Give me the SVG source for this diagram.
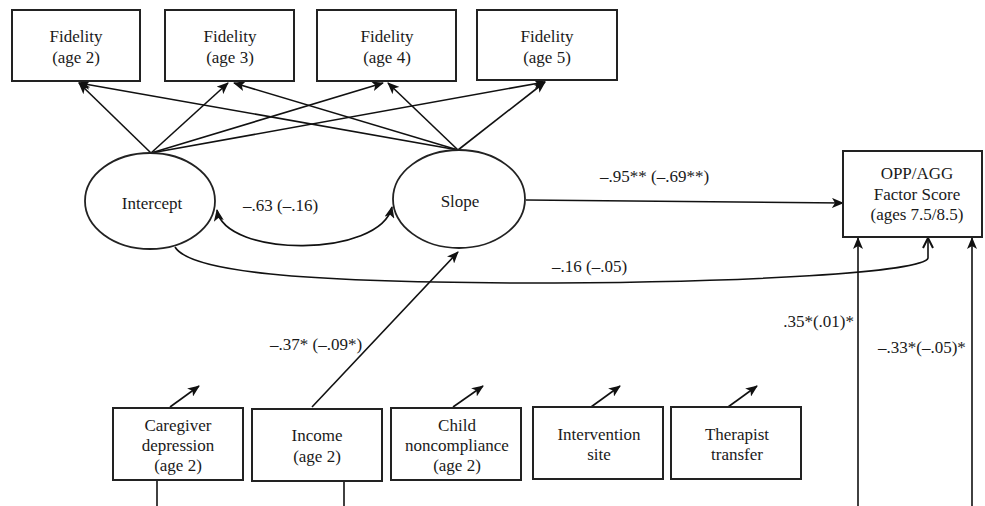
<svg xmlns="http://www.w3.org/2000/svg" width="985" height="506" viewBox="0 0 985 506">
<style>
text{font-family:"Liberation Serif","Times New Roman",serif;font-size:17px;fill:#1a1a1a}
.c{text-anchor:middle}
.box{fill:#fff;stroke:#222;stroke-width:2}
.ell{fill:#fff;stroke:#222;stroke-width:1.8}
.ln{fill:none;stroke:#111;stroke-width:1.6}
</style>
<defs>
<marker id="ah" viewBox="0 0 12 10" refX="11" refY="5" markerWidth="12" markerHeight="10" markerUnits="userSpaceOnUse" orient="auto-start-reverse">
<path d="M0,0 L12,5 L0,10 L3,5 z" fill="#111"/>
</marker>
<marker id="ov" viewBox="0 0 12 12" refX="11" refY="6" markerWidth="12" markerHeight="12" markerUnits="userSpaceOnUse" orient="auto">
<path d="M1,1 L11,6 L1,11" fill="none" stroke="#111" stroke-width="2"/>
</marker>
</defs>
<rect width="985" height="506" fill="#fff"/>

<g id="connectors">
<path class="ln" d="M151,153 L79,83" marker-end="url(#ah)"/>
<path class="ln" d="M151,153 L228,83" marker-end="url(#ah)"/>
<path class="ln" d="M151,153 L383,83" marker-end="url(#ah)"/>
<path class="ln" d="M151,153 L545,82" marker-end="url(#ah)"/>
<path class="ln" d="M458,150 L79,83" marker-end="url(#ah)"/>
<path class="ln" d="M458,150 L234,83" marker-end="url(#ah)"/>
<path class="ln" d="M458,150 L388,83" marker-end="url(#ah)"/>
<path class="ln" d="M458,150 L545,82" marker-end="url(#ah)"/>
<path class="ln" d="M392,207 C380,258 225,258 217,210" marker-start="url(#ah)" marker-end="url(#ah)"/>
<path class="ln" d="M526,200 L843,203" marker-end="url(#ah)"/>
<path class="ln" d="M175,247 C190,272 300,282 520,283 C750,283 925,272 928,258 L928,238" marker-end="url(#ov)"/>
<path class="ln" d="M312,407 L458,252" marker-end="url(#ah)"/>
<path class="ln" d="M858,506 L858,238" marker-end="url(#ah)"/>
<path class="ln" d="M972,506 L972,238" marker-end="url(#ah)"/>
<path class="ln" d="M170,407 L199,386" marker-end="url(#ah)"/>
<path class="ln" d="M453,407 L483,386" marker-end="url(#ah)"/>
<path class="ln" d="M591,407 L620,386" marker-end="url(#ah)"/>
<path class="ln" d="M728,407 L757,386" marker-end="url(#ah)"/>
<path class="ln" d="M157,481 L157,506"/>
<path class="ln" d="M344,482 L344,506"/>
<text x="243" y="211">–.63 (–.16)</text>
<text x="600" y="182">–.95** (–.69**)</text>
<text x="552" y="272">–.16 (–.05)</text>
<text x="270" y="350">–.37* (–.09*)</text>
<text x="854" y="327" text-anchor="end">.35*(.01)*</text>
<text x="878" y="353">–.33*(–.05)*</text>
</g>

<g id="fid2"><rect class="box" x="12" y="10" width="128" height="71"/><text class="c" x="76" y="42">Fidelity</text><text class="c" x="76" y="63">(age 2)</text></g>
<g id="fid3"><rect class="box" x="165" y="10" width="129" height="71"/><text class="c" x="230" y="42">Fidelity</text><text class="c" x="230" y="63">(age 3)</text></g>
<g id="fid4"><rect class="box" x="317" y="10" width="139" height="71"/><text class="c" x="387" y="42">Fidelity</text><text class="c" x="387" y="63">(age 4)</text></g>
<g id="fid5"><rect class="box" x="477" y="10" width="140" height="70"/><text class="c" x="547" y="42">Fidelity</text><text class="c" x="547" y="63">(age 5)</text></g>

<g id="intercept"><ellipse class="ell" cx="150" cy="201" rx="65" ry="48"/><text class="c" x="152" y="209">Intercept</text></g>
<g id="slope"><ellipse class="ell" cx="459" cy="199" rx="66" ry="49"/><text class="c" x="460" y="207">Slope</text></g>

<g id="opp"><rect class="box" x="843" y="151" width="139" height="86"/><text class="c" x="917" y="179">OPP/AGG</text><text class="c" x="917" y="200">Factor Score</text><text class="c" x="917" y="220">(ages 7.5/8.5)</text></g>

<g id="caregiver"><rect class="box" x="113" y="408" width="130" height="72"/><text class="c" x="178" y="431">Caregiver</text><text class="c" x="178" y="451">depression</text><text class="c" x="178" y="471">(age 2)</text></g>
<g id="income"><rect class="box" x="252" y="409" width="130" height="72"/><text class="c" x="317" y="441">Income</text><text class="c" x="317" y="462">(age 2)</text></g>
<g id="child"><rect class="box" x="391" y="408" width="130" height="72"/><text class="c" x="457" y="431">Child</text><text class="c" x="457" y="451">noncompliance</text><text class="c" x="457" y="471">(age 2)</text></g>
<g id="site"><rect class="box" x="533" y="407" width="130" height="72"/><text class="c" x="599" y="440">Intervention</text><text class="c" x="599" y="460">site</text></g>
<g id="therapist"><rect class="box" x="671" y="407" width="130" height="72"/><text class="c" x="737" y="440">Therapist</text><text class="c" x="737" y="460">transfer</text></g>
</svg>
